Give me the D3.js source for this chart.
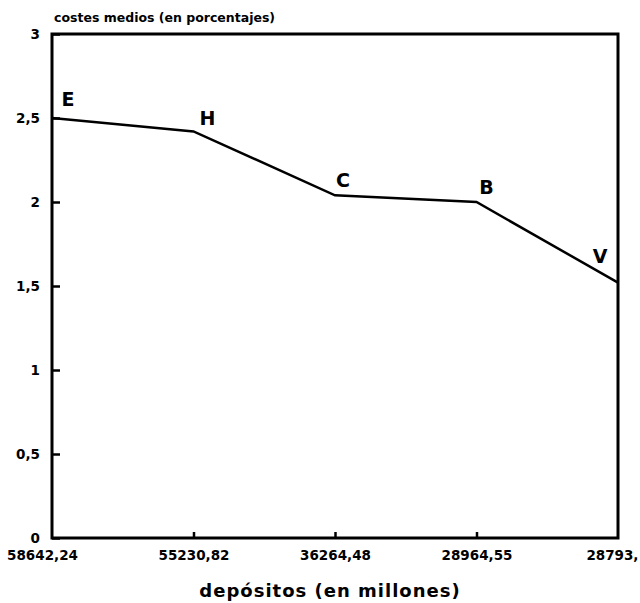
<html>
<head>
<meta charset="UTF-8">
<script src="https://d3js.org/d3.v7.min.js"></script>
<style>
body { margin: 0; background: #fff; }
text { font-family: "DejaVu Sans", sans-serif; font-weight: bold; fill: #000; }
</style>
</head>
<body>
<svg id="chart" width="640" height="603"></svg>
<script>
// datos
var bancos = ["E", "H", "C", "B", "V"];
var depositos = ["58642,24", "55230,82", "36264,48", "28964,55", "28793,"];
var costes = [2.5, 2.42, 2.04, 2.0, 1.52];
var yTicks = [0, 0.5, 1, 1.5, 2, 2.5, 3];

var svg = d3.select("#chart"),
	margin = {top: 34, left: 52, bottom: 65, right: 22},
	width = +svg.attr("width"),
	height = +svg.attr("height");

var x = d3.scalePoint()
	.domain(depositos)
	.range([margin.left, width - margin.right]);

var y = d3.scaleLinear()
	.domain([0, 3])
	.range([height - margin.bottom, margin.top]);

// marco
svg.append("rect")
	.attr("x", margin.left)
	.attr("y", margin.top)
	.attr("width", width - margin.right - margin.left)
	.attr("height", height - margin.bottom - margin.top)
	.attr("fill", "none")
	.attr("stroke", "#000")
	.attr("stroke-width", 3);

// eje y
var yAxis = svg.append("g")
	.attr("transform", `translate(${margin.left},0)`)
	.call(d3.axisRight(y).tickValues(yTicks).tickSize(8)
		.tickFormat(d => String(d).replace(".", ",")));
yAxis.select(".domain").remove();
yAxis.selectAll("line").attr("stroke-width", 2.5);
yAxis.selectAll("text")
	.attr("x", -12)
	.attr("text-anchor", "end")
	.attr("font-size", 13.5);

// eje x
var xAxis = svg.append("g")
	.attr("transform", `translate(0,${height - margin.bottom})`)
	.call(d3.axisTop(x).tickSize(6).tickSizeOuter(0));
xAxis.select(".domain").remove();
xAxis.selectAll("line").attr("stroke-width", 2.5);
xAxis.selectAll("text")
	.attr("y", 22)
	.attr("font-size", 13.5);
xAxis.selectAll(".tick").filter((d, i) => i == 0 || i == depositos.length - 1)
	.select("line").remove();
xAxis.selectAll(".tick").filter((d, i) => i == 0).select("text").attr("dx", -10);
xAxis.selectAll(".tick").filter((d, i) => i == depositos.length - 1).select("text")
	.attr("text-anchor", "end")
	.attr("dx", margin.right - 2);

// linea
var line = d3.line()
	.x((d, i) => x(depositos[i]))
	.y(d => y(d));

svg.append("path")
	.datum(costes)
	.attr("d", line)
	.attr("fill", "none")
	.attr("stroke", "#000")
	.attr("stroke-width", 2.5);

// etiquetas de bancos
var offs = [[16, -12], [14, -6], [8, -8], [10, -8], [-18, -20]];
svg.selectAll(".lab")
	.data(bancos)
	.enter().append("text")
	.attr("class", "lab")
	.attr("x", (d, i) => x(depositos[i]) + offs[i][0])
	.attr("y", (d, i) => y(costes[i]) + offs[i][1])
	.attr("text-anchor", "middle")
	.attr("font-size", 19)
	.attr("font-weight", "normal")
	.text(d => d);

// titulos
svg.append("text")
	.attr("x", margin.left + 2)
	.attr("y", 22)
	.attr("font-size", 12.5)
	.text("costes medios (en porcentajes)");

svg.append("text")
	.attr("x", 330)
	.attr("y", 597)
	.attr("text-anchor", "middle")
	.attr("font-size", 18)
	.attr("letter-spacing", 1)
	.text("depósitos (en millones)");
</script>
</body>
</html>
